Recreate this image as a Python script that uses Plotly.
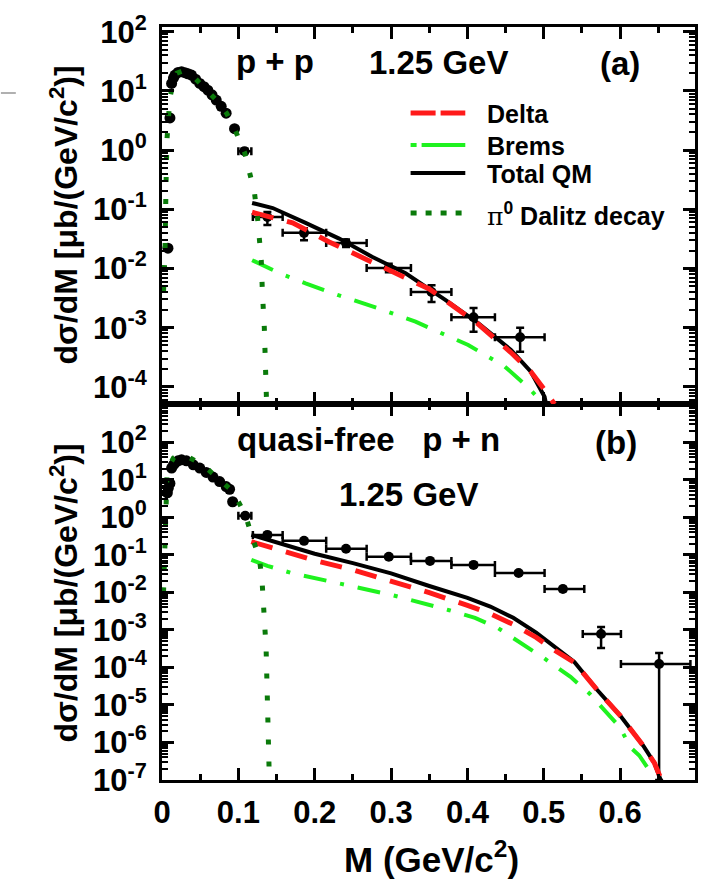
import plotly.graph_objects as go

# ---------------- panel (a): p + p, 1.25 GeV ----------------
a_peak_x = [0.0078, 0.0104, 0.0126, 0.0150, 0.0170, 0.0210, 0.0256, 0.0300, 0.0340, 0.0386, 0.0440, 0.0495, 0.0550, 0.0600, 0.0655, 0.0710, 0.0775, 0.0840, 0.0950]
a_peak_y = [0.022, 3.5, 13.4, 16.5, 18.5, 20.5, 21.0, 20.3, 19.5, 18.5, 15.8, 13.4, 11.8, 10.3, 8.6, 7.0, 5.5, 4.2, 2.3]

a_tail_x = [0.108, 0.138, 0.186, 0.241, 0.297, 0.353, 0.408, 0.469]
a_tail_y = [0.96, 0.074, 0.040, 0.027, 0.0102, 0.0040, 0.0015, 0.00069]
a_bin_lo = [0.100, 0.119, 0.158, 0.215, 0.268, 0.326, 0.379, 0.436]
a_bin_hi = [0.117, 0.158, 0.215, 0.268, 0.326, 0.379, 0.436, 0.501]
a_y_lo = [0.88, 0.054, 0.030, 0.023, 0.0086, 0.0027, 0.00085, 0.00039]
a_y_hi = [1.05, 0.090, 0.048, 0.031, 0.0120, 0.0052, 0.00215, 0.0010]

a_total_x = [0.118, 0.145, 0.188, 0.232, 0.275, 0.319, 0.371, 0.414, 0.457, 0.483, 0.501, 0.503]
a_total_y = [0.128, 0.105, 0.059, 0.032, 0.0158, 0.0083, 0.00295, 0.0012, 0.00042, 0.00018, 6.8e-5, 5.1e-5]

a_delta_x = [0.118, 0.171, 0.219, 0.271, 0.306, 0.350, 0.371, 0.414, 0.457, 0.483, 0.501, 0.514]
a_delta_y = [0.089, 0.059, 0.028, 0.0138, 0.0083, 0.0045, 0.0029, 0.00115, 0.00038, 0.00018, 8.9e-5, 5.1e-5]

a_brems_x = [0.118, 0.154, 0.188, 0.232, 0.284, 0.332, 0.401, 0.449, 0.479, 0.496, 0.500]
a_brems_y = [0.0138, 0.0083, 0.0056, 0.0035, 0.0021, 0.00126, 0.00051, 0.00022, 0.0001, 6.0e-5, 5.1e-5]

a_dalitz_x = [0.0020, 0.0039, 0.0052, 0.0065, 0.0104, 0.0150, 0.0195, 0.0260, 0.0390, 0.0495, 0.0600, 0.0716, 0.0846, 0.0950, 0.1080, 0.1146, 0.1210, 0.1250, 0.1300, 0.1315, 0.1340, 0.1367, 0.1375]
a_dalitz_y = [0.004, 0.018, 0.24, 1.5, 7.8, 14.0, 20.0, 21.5, 18.6, 13.5, 10.2, 6.9, 4.2, 2.3, 0.93, 0.46, 0.195, 0.074, 0.0138, 0.0039, 0.001, 6.8e-5, 4.0e-5]

# ---------------- panel (b): quasi-free p + n, 1.25 GeV ----------------
b_peak_x = [0.0070, 0.0082, 0.0104, 0.0126, 0.0150, 0.0170, 0.0210, 0.0256, 0.0320, 0.0410, 0.0495, 0.0580, 0.0668, 0.0755, 0.0840, 0.0885, 0.0925]
b_peak_y = [4.5, 6.0, 8.0, 20.5, 25.0, 28.0, 32.0, 34.0, 32.0, 25.0, 20.5, 15.7, 11.8, 9.0, 6.6, 5.6, 2.6]

b_tail_x = [0.109, 0.138, 0.186, 0.241, 0.297, 0.351, 0.408, 0.467, 0.525, 0.575, 0.651]
b_tail_y = [1.1, 0.34, 0.236, 0.145, 0.089, 0.069, 0.054, 0.033, 0.0123, 0.00078, 0.000123]
b_bin_lo = [0.100, 0.119, 0.158, 0.215, 0.268, 0.326, 0.379, 0.436, 0.501, 0.551, 0.601]
b_bin_hi = [0.117, 0.158, 0.215, 0.268, 0.326, 0.379, 0.436, 0.501, 0.553, 0.601, 0.692]
b_y_lo = [1.0, 0.31, 0.215, 0.132, 0.081, 0.063, 0.049, 0.030, 0.0108, 0.00033, 1.0e-7]
b_y_hi = [1.2, 0.37, 0.258, 0.158, 0.097, 0.075, 0.059, 0.036, 0.0140, 0.0012, 0.000244]

b_total_x = [0.117, 0.150, 0.200, 0.250, 0.300, 0.350, 0.400, 0.430, 0.460, 0.490, 0.515, 0.540, 0.570, 0.600, 0.630, 0.645, 0.653]
b_total_y = [0.34, 0.22, 0.107, 0.060, 0.032, 0.0148, 0.0071, 0.0042, 0.0021, 0.00085, 0.00035, 0.00014, 2.5e-5, 5.2e-6, 8.3e-7, 2.8e-7, 1.0e-7]

b_delta_x = [0.117, 0.150, 0.200, 0.250, 0.300, 0.350, 0.400, 0.430, 0.460, 0.490, 0.515, 0.540, 0.570, 0.600, 0.630, 0.645, 0.654]
b_delta_y = [0.224, 0.145, 0.071, 0.040, 0.0204, 0.0098, 0.0045, 0.0027, 0.0014, 0.00063, 0.00028, 0.000135, 2.5e-5, 5.2e-6, 8.3e-7, 2.8e-7, 1.0e-7]

b_brems_x = [0.117, 0.138, 0.169, 0.228, 0.301, 0.375, 0.410, 0.440, 0.470, 0.500, 0.535, 0.560, 0.579, 0.600, 0.613, 0.625, 0.636, 0.641]
b_brems_y = [0.074, 0.051, 0.033, 0.0178, 0.0085, 0.0034, 0.0021, 0.00112, 0.00045, 0.000178, 5.6e-5, 2.0e-5, 7.4e-6, 2.5e-6, 7.6e-7, 4.5e-7, 2.1e-7, 1.0e-7]

b_dalitz_x = [0.0020, 0.0045, 0.0065, 0.0100, 0.0150, 0.0200, 0.0256, 0.0350, 0.0450, 0.0600, 0.0750, 0.0880, 0.0950, 0.1090, 0.1180, 0.1276, 0.1311, 0.1332, 0.1350, 0.1363, 0.1371, 0.1376, 0.1384, 0.1393, 0.1402, 0.1406]
b_dalitz_y = [0.01, 0.5, 12.0, 25.0, 38.0, 45.0, 47.0, 40.0, 31.0, 19.0, 10.0, 6.0, 4.0, 1.2, 0.3, 0.081, 0.019, 0.0052, 0.0012, 0.00033, 7.6e-5, 1.9e-5, 4.8e-6, 1.2e-6, 2.8e-7, 1.0e-7]

# ---------------- styles ----------------
FONT = "Liberation Sans, Arial, Helvetica, sans-serif"
BLACK = "#000000"
RED = "#ff1a1a"
LIME = "#1ff21f"
DKGREEN = "#0a7a0a"
DASH_DELTA = "22px,14px"
DASH_BREMS = "23px,14px,4px,14px"
DASH_DALITZ = "5px,17px"

fig = go.Figure()


def add_panel(xa, ya, peak_x, peak_y, tx, ty, blo, bhi, ylo, yhi,
              tot_x, tot_y, del_x, del_y, br_x, br_y, dz_x, dz_y):
    fig.add_trace(go.Scatter(x=peak_x, y=peak_y, mode="markers", xaxis=xa, yaxis=ya,
                             marker=dict(color=BLACK, size=11), showlegend=False))
    fig.add_trace(go.Scatter(
        x=tx, y=ty, mode="markers", xaxis=xa, yaxis=ya, showlegend=False,
        marker=dict(color=BLACK, size=10),
        error_x=dict(type="data", symmetric=False,
                     array=[h - x for h, x in zip(bhi, tx)],
                     arrayminus=[x - l for l, x in zip(blo, tx)],
                     color=BLACK, thickness=2.5, width=4),
        error_y=dict(type="data", symmetric=False,
                     array=[h - y for h, y in zip(yhi, ty)],
                     arrayminus=[y - l for l, y in zip(ylo, ty)],
                     color=BLACK, thickness=2.5, width=4)))
    fig.add_trace(go.Scatter(x=tot_x, y=tot_y, mode="lines", xaxis=xa, yaxis=ya,
                             line=dict(color=BLACK, width=4), showlegend=False))
    fig.add_trace(go.Scatter(x=del_x, y=del_y, mode="lines", xaxis=xa, yaxis=ya,
                             line=dict(color=RED, width=5, dash=DASH_DELTA), showlegend=False))
    fig.add_trace(go.Scatter(x=br_x, y=br_y, mode="lines", xaxis=xa, yaxis=ya,
                             line=dict(color=LIME, width=4, dash=DASH_BREMS), showlegend=False))
    fig.add_trace(go.Scatter(x=dz_x, y=dz_y, mode="lines", xaxis=xa, yaxis=ya,
                             line=dict(color=DKGREEN, width=5, dash=DASH_DALITZ), showlegend=False))


add_panel("x2", "y2", a_peak_x, a_peak_y, a_tail_x, a_tail_y, a_bin_lo, a_bin_hi, a_y_lo, a_y_hi,
          a_total_x, a_total_y, a_delta_x, a_delta_y, a_brems_x, a_brems_y, a_dalitz_x, a_dalitz_y)
add_panel("x", "y", b_peak_x, b_peak_y, b_tail_x, b_tail_y, b_bin_lo, b_bin_hi, b_y_lo, b_y_hi,
          b_total_x, b_total_y, b_delta_x, b_delta_y, b_brems_x, b_brems_y, b_dalitz_x, b_dalitz_y)

tickfont = dict(family=FONT, size=31, color=BLACK, weight="bold")
axis_common = dict(showline=True, linewidth=3, linecolor=BLACK, mirror="allticks",
                   ticks="inside", ticklen=12, tickwidth=3, tickcolor=BLACK,
                   showgrid=False, zeroline=False, tickfont=tickfont)

minor_log = [k * 10.0 ** n for n in range(-8, 4) for k in range(2, 10)]


def log_ticks(lo, hi):
    vals = [10.0 ** n for n in range(lo, hi + 1)]
    text = ["10<sup>%d</sup>" % n for n in range(lo, hi + 1)]
    return vals, text


ya_vals, ya_text = log_ticks(-4, 2)
yb_vals, yb_text = log_ticks(-7, 2)

split = 376.0 / 753.0

fig.update_layout(
    width=702, height=882,
    margin=dict(l=162, r=4, t=27, b=102),
    paper_bgcolor="white", plot_bgcolor="white",
    font=dict(family=FONT, color=BLACK, weight="bold"),
    showlegend=False,
    xaxis=dict(axis_common, range=[0, 0.698], domain=[0, 1], anchor="y",
               tick0=0, dtick=0.1, ticklabelstandoff=3,
               minor=dict(dtick=0.05, tick0=0, ticks="inside", ticklen=6, tickwidth=2.5, tickcolor=BLACK)),
    xaxis2=dict(axis_common, range=[0, 0.698], domain=[0, 1], anchor="y2", matches="x",
                tick0=0, dtick=0.1, showticklabels=False,
                minor=dict(dtick=0.05, tick0=0, ticks="inside", ticklen=6, tickwidth=2.5, tickcolor=BLACK)),
    yaxis=dict(axis_common, type="log", range=[-7, 3.02], domain=[0, split], anchor="x",
               tickmode="array", tickvals=yb_vals, ticktext=yb_text, ticklabelstandoff=6,
               minor=dict(tickmode="array", tickvals=minor_log, ticks="inside", ticklen=6,
                          tickwidth=2, tickcolor=BLACK)),
    yaxis2=dict(axis_common, type="log", range=[-4.29, 2.08], domain=[split, 1], anchor="x2",
                tickmode="array", tickvals=ya_vals, ticktext=ya_text, ticklabelstandoff=6,
                minor=dict(tickmode="array", tickvals=minor_log, ticks="inside", ticklen=6,
                           tickwidth=2, tickcolor=BLACK)),
)


def px2paper_x(px):
    return (px - 162) / 536.0


def px2paper_y(py):
    return (780 - py) / 753.0


def note(text, cx, cy, size, xanchor="center"):
    fig.add_annotation(text=text, x=px2paper_x(cx), y=px2paper_y(cy), xref="paper", yref="paper",
                       xanchor=xanchor, yanchor="middle", showarrow=False,
                       font=dict(family=FONT, size=size, color=BLACK, weight="bold"))


# panel labels
note("p + p", 276, 62, 33)
note("1.25 GeV", 440, 63, 33)
note("(a)", 623, 64, 33)
note("quasi-free\u00a0\u00a0\u00a0p + n", 370, 440, 33)
note("(b)", 619, 443, 33)
note("1.25 GeV", 410, 494, 33)

# axis titles
ytitle = "d\u03c3/dM [\u03bcb/(GeV/c<sup>2</sup>)]"
for cy in (215, 593):
    fig.add_annotation(text=ytitle, x=px2paper_x(63), y=px2paper_y(cy), xref="paper", yref="paper",
                       xanchor="center", yanchor="middle", textangle=-90, showarrow=False,
                       font=dict(family=FONT, size=32, color=BLACK, weight="bold"))
fig.add_annotation(text="M (GeV/c<sup>2</sup>)", x=px2paper_x(433), y=px2paper_y(857),
                   xref="paper", yref="paper", xanchor="center", yanchor="middle", showarrow=False,
                   font=dict(family=FONT, size=35, color=BLACK, weight="bold"))

# legend (manual)
legend_rows = [
    ("Delta", RED, 5, "25px,5px,25px", 113),
    ("Brems", LIME, 4, "6px,5px,44px", 145),
    ("Total QM", BLACK, 4, "solid", 173),
    ("<span style='font-family:DejaVu Serif, serif;font-weight:normal'>\u03c0</span><sup>0</sup> Dalitz decay", DKGREEN, 5, "6px,9px", 213),
]
for label, col, w, dash, py in legend_rows:
    fig.add_shape(type="line", xref="paper", yref="paper",
                  x0=px2paper_x(412), x1=px2paper_x(467), y0=px2paper_y(py), y1=px2paper_y(py),
                  line=dict(color=col, width=w, dash=dash))
    fig.add_annotation(text=label, x=px2paper_x(487), y=px2paper_y(py + 1), xref="paper", yref="paper",
                       xanchor="left", yanchor="middle", showarrow=False,
                       font=dict(family=FONT, size=25, color=BLACK, weight="bold"))

# small grey stroke at top-left of the original image
fig.add_shape(type="line", xref="paper", yref="paper",
              x0=px2paper_x(0), x1=px2paper_x(15), y0=px2paper_y(93), y1=px2paper_y(93),
              line=dict(color="#b0b0b0", width=2))

fig.write_html("out.html")
